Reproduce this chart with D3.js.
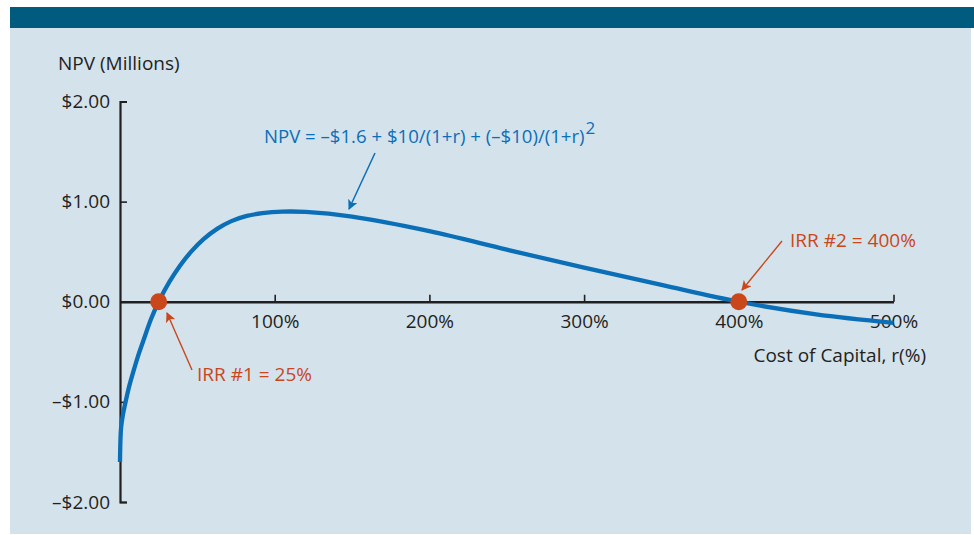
<!DOCTYPE html>
<html>
<head>
<meta charset="utf-8">
<script src="https://cdn.jsdelivr.net/npm/d3@7"></script>
<style>
  html, body { margin: 0; padding: 0; background: #ffffff; }
  svg { display: block; font-family: "Open Sans", "Noto Sans", sans-serif; }
</style>
</head>
<body>
<svg id="chart" width="974" height="535"></svg>
<script>
// Cost of capital r (as a multiple, 1 = 100%) and NPV in $ millions
const rates = [0, 0.007, 0.02, 0.039, 0.06, 0.082, 0.115, 0.153, 0.20, 0.25, 0.32, 0.39, 0.46, 0.54, 0.63, 0.72, 0.82, 0.92, 1.05, 1.20, 1.50, 2.00, 2.50, 3.00, 3.50, 4.00, 4.50, 5.00];
const npv   = [-1.60, -1.26, -1.12, -0.98, -0.84, -0.72, -0.55, -0.38, -0.175, 0, 0.20, 0.365, 0.50, 0.625, 0.73, 0.805, 0.857, 0.885, 0.90, 0.897, 0.85, 0.705, 0.52, 0.34, 0.168, 0, -0.125, -0.21];

// Axis ticks and their labels
const xTicks = [1, 2, 3, 4, 5];
const xTickLabels = ["100%", "200%", "300%", "400%", "500%"];
const yTicks = [2, 1, 0, -1, -2];
const yTickLabels = ["$2.00", "$1.00", "$0.00", "\u2013$1.00", "\u2013$2.00"];

// Internal rates of return (NPV = 0)
const irrRates = [0.25, 4.0];
const irrLabels = ["IRR #1 = 25%", "IRR #2 = 400%"];

const formulaText = "NPV = \u2013$1.6 + $10/(1+r) + (\u2013$10)/(1+r)";
const formulaExp = "2";

const BLUE = "#0b6fb8";
const ORANGE = "#c9471b";
const INK = "#231f20";
const FS = 19;

const svg = d3.select("#chart");

// Panel and header band
svg.append("rect").attr("x", 10).attr("y", 27).attr("width", 961).attr("height", 507).attr("fill", "#d4e2ec");
svg.append("rect").attr("x", 10).attr("y", 7).attr("width", 964).attr("height", 21).attr("fill", "#005b7e");

const x = d3.scaleLinear().domain([0, 5]).range([120, 893.5]);
const y = d3.scaleLinear().domain([-2, 2]).range([502, 101.5]);

// Markers for annotation arrows
const defs = svg.append("defs");
function marker(id, color) {
  defs.append("marker")
    .attr("id", id)
    .attr("viewBox", "0 0 10 10")
    .attr("refX", 9).attr("refY", 5)
    .attr("markerWidth", 10).attr("markerHeight", 10)
    .attr("markerUnits", "userSpaceOnUse")
    .attr("orient", "auto")
    .append("path").attr("d", "M0,0L10,5L0,10L2.5,5Z").attr("fill", color);
}
marker("arrowBlue", BLUE);
marker("arrowOrange", ORANGE);

// Y axis: ticks point inward, stubs at both ends
const yAxis = d3.axisLeft(y)
  .tickValues(yTicks)
  .tickFormat((d, i) => yTickLabels[i])
  .tickSizeInner(-7)
  .tickSizeOuter(-7)
  .tickPadding(10);
const gy = svg.append("g").attr("transform", `translate(${x(0)},0)`).call(yAxis);
gy.select(".domain").attr("stroke", INK).attr("stroke-width", 2.2);
gy.selectAll(".tick line").attr("stroke", INK).attr("stroke-width", 1.6);
gy.selectAll(".tick text").attr("fill", INK).attr("font-size", FS).attr("font-family", "'Open Sans', sans-serif");

// X axis along NPV = 0, ticks pointing up
const xAxis = d3.axisBottom(x)
  .tickValues(xTicks)
  .tickFormat((d, i) => xTickLabels[i])
  .tickSizeInner(-7)
  .tickSizeOuter(0)
  .tickPadding(13);
const gx = svg.append("g").attr("transform", `translate(0,${y(0)})`).call(xAxis);
gx.select(".domain").attr("stroke", INK).attr("stroke-width", 2.6);
gx.selectAll(".tick line").attr("stroke", INK).attr("stroke-width", 1.6);
gx.selectAll(".tick text").attr("fill", INK).attr("font-size", FS).attr("font-family", "'Open Sans', sans-serif");

// Axis titles
svg.append("text").attr("x", 58).attr("y", 70).attr("font-size", FS).attr("fill", INK).text("NPV (Millions)");
svg.append("text").attr("x", 926).attr("y", 362).attr("text-anchor", "end").attr("font-size", FS).attr("fill", INK).text("Cost of Capital, r(%)");

// NPV profile
const pts = rates.map((r, i) => [r, npv[i]]);
const line = d3.line().x(d => x(d[0])).y(d => y(d[1])).curve(d3.curveCatmullRom.alpha(0.5));
svg.append("path").datum(pts).attr("d", line)
  .attr("fill", "none").attr("stroke", BLUE).attr("stroke-width", 4.3).attr("stroke-linecap", "butt");

// IRR points
svg.selectAll("circle.irr").data(irrRates).enter().append("circle")
  .attr("class", "irr")
  .attr("cx", d => x(d)).attr("cy", y(0)).attr("r", 8.5)
  .attr("fill", ORANGE);

// Formula annotation
const ft = svg.append("text").attr("x", 264).attr("y", 143).attr("font-size", 18.6).attr("fill", BLUE);
ft.append("tspan").text(formulaText);
ft.append("tspan").attr("dx", 1).attr("dy", -9).attr("font-size", 17).text(formulaExp);
svg.append("line").attr("x1", 375).attr("y1", 153).attr("x2", 349).attr("y2", 209)
  .attr("stroke", BLUE).attr("stroke-width", 1.5).attr("marker-end", "url(#arrowBlue)");

// IRR annotations
svg.append("text").attr("x", 790).attr("y", 247).attr("font-size", FS).attr("fill", ORANGE).text(irrLabels[1]);
svg.append("line").attr("x1", 782).attr("y1", 241).attr("x2", 742).attr("y2", 290)
  .attr("stroke", ORANGE).attr("stroke-width", 1.4).attr("marker-end", "url(#arrowOrange)");

svg.append("text").attr("x", 197).attr("y", 381).attr("font-size", FS).attr("fill", ORANGE).text(irrLabels[0]);
svg.append("line").attr("x1", 192).attr("y1", 370).attr("x2", 167).attr("y2", 313)
  .attr("stroke", ORANGE).attr("stroke-width", 1.4).attr("marker-end", "url(#arrowOrange)");
</script>
</body>
</html>
